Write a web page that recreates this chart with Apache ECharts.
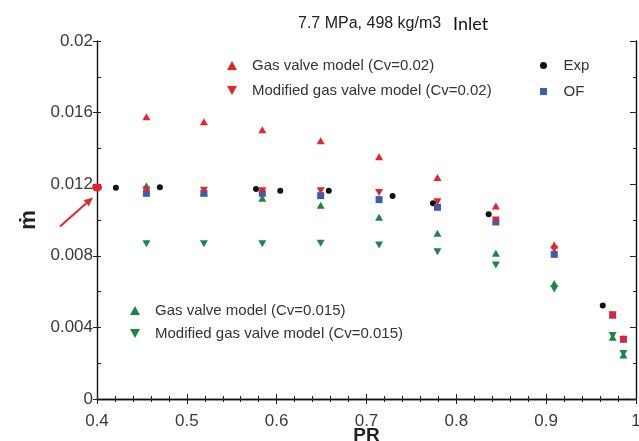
<!DOCTYPE html>
<html>
<head>
<meta charset="utf-8">
<script src="https://cdn.jsdelivr.net/npm/echarts@6/dist/echarts.min.js"></script>
<style>
  html, body { margin: 0; padding: 0; background: #fff; }
  #chart { width: 639px; height: 441px; }
</style>
</head>
<body>
<div id="chart"></div>
<script>
// Pressure ratio positions of the model evaluations
const prPoints   = [0.455, 0.519, 0.584, 0.649, 0.714, 0.779, 0.844, 0.909, 0.974, 0.986];
// Mass flow rate predictions (kg/s)
const gasCv02    = [0.01577, 0.01549, 0.01504, 0.01443, 0.01354, 0.01238, 0.01078, 0.00860, 0.00472, 0.00337];
const modCv02    = [0.01168, 0.01166, 0.01164, 0.01164, 0.01153, 0.01102, 0.01000, 0.00836, 0.00470, 0.00333];
const gasCv015   = [0.01192, 0.01155, 0.01121, 0.01082, 0.01015, 0.00926, 0.00814, 0.00645, 0.00345, 0.00246];
const modCv015   = [0.00868, 0.00868, 0.00868, 0.00870, 0.00860, 0.00823, 0.00749, 0.00615, 0.00355, 0.00254];
const ofFlow     = [0.01149, 0.01149, 0.01149, 0.01136, 0.01114, 0.01071, 0.00989, 0.00808, 0.00468, 0.00334];
// Experimental measurements
const expPR      = [0.421, 0.470, 0.577, 0.604, 0.658, 0.729, 0.774, 0.836, 0.963];
const expFlow    = [0.01180, 0.01183, 0.01173, 0.01164, 0.01164, 0.01134, 0.01093, 0.01032, 0.00523];
// Highlighted inlet point on the axis
const inletPR    = 0.4;
const inletFlow  = 0.01182;

const seriesNames = {
  gas02: 'Gas valve model (Cv=0.02)',
  mod02: 'Modified gas valve model (Cv=0.02)',
  gas015: 'Gas valve model (Cv=0.015)',
  mod015: 'Modified gas valve model (Cv=0.015)',
  exp: 'Exp',
  of: 'OF'
};

const RED = '#e8232a', GREEN = '#1a8742', BLUE = '#3b5cb5', BLACK = '#111111';
const FONT = 'Liberation Sans';
const DOWN = 'path://M0,0 L10,0 L5,9 Z';
const UP = 'path://M5,0 L10,9 L0,9 Z';
const SQUARE = 'path://M0,0 L10,0 L10,10 L0,10 Z';
const DOT = 'path://M5,0 A5,5 0 1 1 4.99,0 Z';

function pairs(xs, ys) { return xs.map((x, i) => [x, ys[i]]); }

const chart = echarts.init(document.getElementById('chart'), null, { renderer: 'canvas' });

const tickLabel = { color: '#3a3a3a', fontSize: 17, fontFamily: FONT };
const axisLine = { show: true, lineStyle: { color: '#111', width: 1.4 } };
const legendText = { fontFamily: FONT, fontSize: 15, color: '#333' };

const option = {
  backgroundColor: '#fff',
  animation: false,
  title: [
    { text: '7.7 MPa, 498 kg/m3', left: 293, top: 11,
      textStyle: { fontFamily: FONT, fontSize: 16, fontWeight: 'normal', color: '#222' } },
    { text: 'Inlet', left: 448, top: 10,
      textStyle: { fontFamily: 'Lato', fontSize: 18, fontWeight: 'normal', color: '#111' } }
  ],
  grid: { left: 97, right: 3, top: 41, bottom: 42, containLabel: false, outerBoundsMode: 'none' },
  legend: [
    { orient: 'vertical', left: 222, top: 53, itemWidth: 30, itemHeight: 9, itemGap: 10,
      data: [{ name: seriesNames.gas02, icon: UP }, { name: seriesNames.mod02, icon: DOWN }],
      textStyle: legendText },
    { orient: 'vertical', left: 535, top: 53, itemWidth: 30, itemHeight: 7, itemGap: 11,
      data: [{ name: seriesNames.exp, icon: DOT }, { name: seriesNames.of, icon: SQUARE }],
      textStyle: legendText },
    { orient: 'vertical', left: 125, top: 298, itemWidth: 30, itemHeight: 9, itemGap: 8,
      data: [{ name: seriesNames.gas015, icon: UP }, { name: seriesNames.mod015, icon: DOWN }],
      textStyle: legendText }
  ],
  xAxis: [
    { type: 'value', position: 'bottom', min: 0.4, max: 1.0, interval: 0.1,
      name: 'PR', nameLocation: 'middle', nameGap: 27, nameMoveOverlap: false,
      nameTextStyle: { fontFamily: FONT, fontSize: 19, fontWeight: 'bold', color: '#222' },
      axisLine: axisLine,
      axisTick: { show: true, inside: true, length: 5, lineStyle: { color: '#222' } },
      minorTick: { show: true, splitNumber: 5, length: 3, lineStyle: { color: '#222' } },
      splitLine: { show: false },
      axisLabel: Object.assign({ margin: 14,
        formatter: v => (v > 0.999 ? '1' : v.toFixed(1)) }, tickLabel) },
    { type: 'value', position: 'top', min: 0.4, max: 1.0, interval: 0.1,
      axisLine: axisLine,
      axisTick: { show: true, inside: true, length: 5, lineStyle: { color: '#222' } },
      minorTick: { show: true, splitNumber: 5, length: 3, lineStyle: { color: '#222' } },
      splitLine: { show: false }, axisLabel: { show: false } }
  ],
  yAxis: [
    { type: 'value', position: 'left', min: 0, max: 0.02, interval: 0.004,
      name: 'ṁ', nameLocation: 'middle', nameGap: 57, nameRotate: 90, nameMoveOverlap: false,
      nameTextStyle: { fontFamily: FONT, fontSize: 22, fontWeight: 'bold', color: '#222' },
      axisLine: axisLine,
      axisTick: { show: true, inside: false, length: 4, lineStyle: { color: '#222' } },
      splitLine: { show: false },
      axisLabel: Object.assign({ margin: 4,
        formatter: v => String(parseFloat(v.toFixed(3))) }, tickLabel) },
    { type: 'value', position: 'left', min: 0, max: 0.02, interval: 0.004,
      axisLine: { show: false },
      axisTick: { show: true, inside: true, length: 4, lineStyle: { color: '#222' } },
      minorTick: { show: true, splitNumber: 2, length: 4, lineStyle: { color: '#222' } },
      splitLine: { show: false }, axisLabel: { show: false } },
    { type: 'value', position: 'right', min: 0, max: 0.02, interval: 0.004,
      axisLine: axisLine,
      axisTick: { show: true, inside: true, length: 6, lineStyle: { color: '#222' } },
      minorTick: { show: true, splitNumber: 2, length: 3, lineStyle: { color: '#222' } },
      splitLine: { show: false }, axisLabel: { show: false } }
  ],
  series: [
    { name: seriesNames.exp, type: 'scatter', symbol: 'circle', symbolSize: 6,
      itemStyle: { color: BLACK, opacity: 1 }, data: pairs(expPR, expFlow), z: 2 },
    { name: seriesNames.gas015, type: 'scatter', symbol: UP, symbolSize: [8, 7],
      itemStyle: { color: GREEN, opacity: 1 }, data: pairs(prPoints, gasCv015), z: 3 },
    { name: seriesNames.mod015, type: 'scatter', symbol: DOWN, symbolSize: [8, 7],
      itemStyle: { color: GREEN, opacity: 1 }, data: pairs(prPoints, modCv015), z: 3 },
    { name: seriesNames.of, type: 'scatter', symbol: 'rect', symbolSize: 7,
      itemStyle: { color: BLUE, opacity: 1 }, data: pairs(prPoints, ofFlow), z: 4 },
    { name: seriesNames.gas02, type: 'scatter', symbol: UP, symbolSize: [8, 7],
      itemStyle: { color: RED, opacity: 1 }, data: pairs(prPoints, gasCv02), z: 5 },
    { name: seriesNames.mod02, type: 'scatter', symbol: DOWN, symbolSize: [8, 7],
      itemStyle: { color: RED, opacity: 1 }, data: pairs(prPoints, modCv02), z: 5 },
    { name: 'inlet', type: 'scatter', symbol: 'circle', symbolSize: [10, 8], clip: false,
      itemStyle: { color: RED, opacity: 1 }, data: [[inletPR, inletFlow]], z: 6 }
  ]
};

chart.setOption(option);

// Red arrow pointing at the inlet point
const p = chart.convertToPixel({ xAxisIndex: 0, yAxisIndex: 0 }, [inletPR, inletFlow]);
const tail = [p[0] - 37, p[1] + 39];
const head = [p[0] - 4, p[1] + 10];
const dx = head[0] - tail[0], dy = head[1] - tail[1];
const len = Math.sqrt(dx * dx + dy * dy);
const ux = dx / len, uy = dy / len;
const aL = 9, aW = 4;
const base = [head[0] - ux * aL, head[1] - uy * aL];
chart.setOption({
  graphic: [
    { type: 'line', z: 100,
      shape: { x1: tail[0], y1: tail[1], x2: base[0], y2: base[1] },
      style: { stroke: RED, lineWidth: 2 } },
    { type: 'polygon', z: 100,
      shape: { points: [head,
        [base[0] - uy * aW, base[1] + ux * aW],
        [base[0] + uy * aW, base[1] - ux * aW]] },
      style: { fill: RED } }
  ]
});
</script>
</body>
</html>
